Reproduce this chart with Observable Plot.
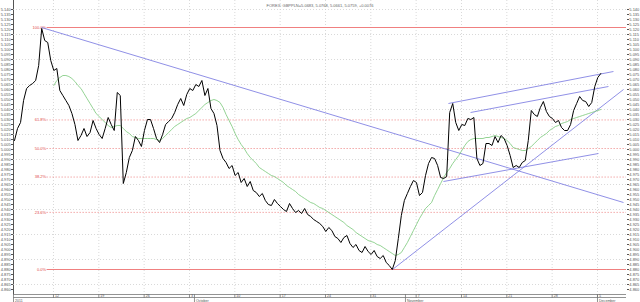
<!DOCTYPE html>
<html><head><meta charset="utf-8">
<script src="https://cdn.jsdelivr.net/npm/d3@7"></script>
<script src="https://cdn.jsdelivr.net/npm/@observablehq/plot@0.6"></script>
<style>body{margin:0;background:#fff;overflow:hidden}</style>
</head><body><div id="chart"></div>
<script>
const titleText = "FOREX: GBPPLN=5.0683, 5.0768, 5.0661, 5.0759, +0.0076";
// time axis: trading-day index (Sep 5 2011 = 0), bars every 1/3 day
const startDay = 0.7, stepDay = 1 / 3;
const price = [5.009,5.021,5.027,5.049,5.061,5.064,5.066,5.069,5.084,5.121,
 5.109,5.107,5.089,5.079,5.081,5.059,5.054,5.049,5.044,5.036,
 5.025,5.009,5.014,5.021,5.013,5.017,5.029,5.021,5.015,5.011,
 5.021,5.032,5.025,5.019,5.057,5.054,4.966,4.977,4.992,4.999,
 5.013,5.009,5.003,5.019,5.030,5.030,5.021,5.011,5.007,5.015,
 5.025,5.028,5.031,5.037,5.045,5.051,5.044,5.055,5.061,5.059,
 5.065,5.063,5.069,5.054,5.061,5.041,5.036,5.024,4.999,4.991,
 4.987,4.981,4.984,4.974,4.977,4.967,4.971,4.963,4.968,4.959,
 4.957,4.953,4.956,4.949,4.945,4.944,4.950,4.946,4.943,4.940,
 4.938,4.946,4.941,4.937,4.939,4.936,4.941,4.935,4.933,4.930,
 4.928,4.926,4.923,4.918,4.922,4.919,4.913,4.911,4.907,4.912,
 4.914,4.906,4.902,4.905,4.899,4.897,4.903,4.898,4.895,4.899,
 4.893,4.891,4.894,4.887,4.884,4.880,4.889,4.911,4.934,4.949,
 4.956,4.963,4.969,4.967,4.954,4.957,4.974,4.986,4.992,4.991,
 4.984,4.972,4.971,4.973,5.037,5.046,5.027,5.019,5.025,5.024,
 5.031,5.030,5.032,4.991,4.984,4.986,5.006,5.006,5.004,5.013,
 5.007,5.014,5.011,5.004,4.994,4.982,4.984,4.982,4.987,4.989,
 5.009,5.039,5.035,5.033,5.042,5.048,5.038,5.033,5.031,5.027,
 5.029,5.022,5.019,5.019,5.025,5.039,5.046,5.053,5.049,5.048,
 5.043,5.047,5.063,5.072,5.076];
const maStartIndex = 13;
const movingAvg = [5.064,5.069,5.072,5.074,5.074,5.073,5.071,5.068,5.064,5.061,
 5.056,5.051,5.046,5.041,5.036,5.033,5.030,5.027,5.024,5.022,
 5.023,5.024,5.024,5.021,5.018,5.016,5.013,5.012,5.011,5.011,
 5.011,5.011,5.011,5.011,5.010,5.009,5.011,5.014,5.017,5.020,
 5.023,5.025,5.027,5.029,5.031,5.032,5.034,5.036,5.039,5.042,
 5.045,5.047,5.049,5.050,5.049,5.047,5.042,5.035,5.029,5.023,
 5.016,5.010,5.005,5.001,4.996,4.992,4.989,4.986,4.982,4.980,
 4.978,4.976,4.974,4.973,4.971,4.969,4.967,4.964,4.962,4.960,
 4.958,4.955,4.953,4.951,4.949,4.947,4.946,4.944,4.942,4.941,
 4.939,4.937,4.935,4.933,4.931,4.929,4.927,4.924,4.922,4.920,
 4.917,4.915,4.913,4.911,4.909,4.908,4.907,4.905,4.904,4.902,
 4.900,4.898,4.896,4.894,4.895,4.897,4.902,4.907,4.913,4.919,
 4.925,4.931,4.936,4.941,4.944,4.947,4.954,4.960,4.966,4.972,
 4.977,4.981,4.986,4.990,4.994,4.999,5.004,5.008,5.010,5.011,
 5.011,5.011,5.011,5.012,5.012,5.013,5.014,5.013,5.012,5.011,
 5.009,5.006,5.002,5.001,5.000,4.999,4.999,5.001,5.003,5.006,
 5.009,5.012,5.014,5.016,5.019,5.021,5.023,5.024,5.026,5.027,
 5.028,5.030,5.031,5.032,5.033,5.034,5.035,5.036,5.037,5.038,
 5.039,5.040];
// Fibonacci retracement
const fibHigh = 5.122, fibLow = 4.880, fibStartDay = 4.3;
const fibLevels = [1, 0.618, 0.5, 0.382, 0.236, 0];
// trend lines [day1, value1, day2, value2]
const trendLines = [
  [3.68, 5.122, 67.87, 4.947],
  [48.56, 5.046, 66.76, 5.078],
  [51.0, 5.037, 66.21, 5.063],
  [48.01, 4.968, 65.11, 4.996],
  [42.39, 4.880, 67.87, 5.060]
];
const weekTickDays = [5,10,15,20,25,30,35,40,45,50,55,60,65];
const weekTickLabels = ["12","19","26","3","10","17","24","31","7","14","21","28","5"];
const monthDays = [0.59, 20.55, 43.82, 65.0];
const monthLabels = ["2011","October","November","December"];
const yTickValues = d3.range(0, 57).map(k => +(5.140 - k * 0.005).toFixed(3));
const yGridValues = yTickValues.filter((d, k) => k % 5 === 0);

const xDomain = [0.59, 68.2];
const yDomain = [4.855, 5.149];
const yMin = yDomain[0];

const priceData = price.map((v, i) => ({day: startDay + i * stepDay, value: v}));
const maData = movingAvg.map((v, i) => ({day: startDay + (i + maStartIndex) * stepDay, value: v}));
const fibData = fibLevels.map(f => ({f, value: fibLow + f * (fibHigh - fibLow)}));
const fibSolid = fibData.filter(d => d.f === 0 || d.f === 1);
const fibDotted = fibData.filter(d => d.f !== 0 && d.f !== 1);
const trendData = trendLines.map(([x1, y1, x2, y2]) => ({x1, y1, x2, y2}));
const weekData = weekTickDays.map((d, i) => ({day: d, label: weekTickLabels[i]}));
const monthData = monthDays.map((d, i) => ({day: d, label: monthLabels[i]}));

const chart = Plot.plot({
  width: 640, height: 302,
  marginLeft: 13, marginRight: 14, marginTop: 0, marginBottom: 8,
  style: {fontFamily: "Liberation Sans, Arial, sans-serif", fontSize: "4px", color: "#555", background: "#fff"},
  x: {domain: xDomain, axis: null},
  y: {domain: yDomain, axis: "both", ticks: yTickValues, tickSize: 2, tickPadding: 0.8,
      tickFormat: d3.format(".3f"), label: null, line: true},
  marks: [
    Plot.ruleY(yGridValues, {stroke: "#c8c8c8", strokeDasharray: "1,2", strokeWidth: 0.7}),
    Plot.ruleX(weekTickDays, {stroke: "#c8c8c8", strokeDasharray: "1,2", strokeWidth: 0.7}),
    Plot.ruleY(fibSolid, {y: "value", x1: fibStartDay, x2: xDomain[1],
      stroke: "#f08080", strokeWidth: 1}),
    Plot.ruleY(fibDotted, {y: "value", x1: fibStartDay, x2: xDomain[1],
      stroke: "#e86060", strokeWidth: 0.8, strokeDasharray: "1,2"}),
    Plot.text(fibData, {x: fibStartDay, y: "value", text: d => d3.format(".1%")(d.f),
      textAnchor: "end", dx: -1, fill: "#e04848", fontSize: 4}),
    Plot.link(trendData, {x1: "x1", y1: "y1", x2: "x2", y2: "y2", stroke: "#7474e0", strokeWidth: 0.8}),
    Plot.line(maData, {x: "day", y: "value", stroke: "#78c878", strokeWidth: 0.8}),
    Plot.line(priceData, {x: "day", y: "value", stroke: "#000", strokeWidth: 1}),
    // bottom time axis
    Plot.ruleY([yMin], {stroke: "#777", strokeWidth: 0.8}),
    Plot.ruleY([yMin - 0.003], {stroke: "#777", strokeWidth: 0.8}),
    Plot.ruleX(weekData, {x: "day", y1: yMin, y2: yMin - 0.004, stroke: "#777", strokeWidth: 0.8}),
    Plot.text(weekData, {x: "day", y: yMin - 0.0017, text: "label", textAnchor: "start", dx: 1.5, fill: "#555", fontSize: 3.6}),
    Plot.ruleX(monthData, {x: "day", y1: yMin, y2: yMin - 0.008, stroke: "#777", strokeWidth: 0.8}),
    Plot.text(monthData, {x: "day", y: yMin - 0.0062, text: "label", textAnchor: "start", dx: 1.5, fill: "#555", fontSize: 3.6}),
    Plot.text([titleText], {frameAnchor: "top", dy: 4, fill: "#666", fontSize: 4})
  ]
});
document.getElementById("chart").appendChild(chart);
</script>
</body></html>
